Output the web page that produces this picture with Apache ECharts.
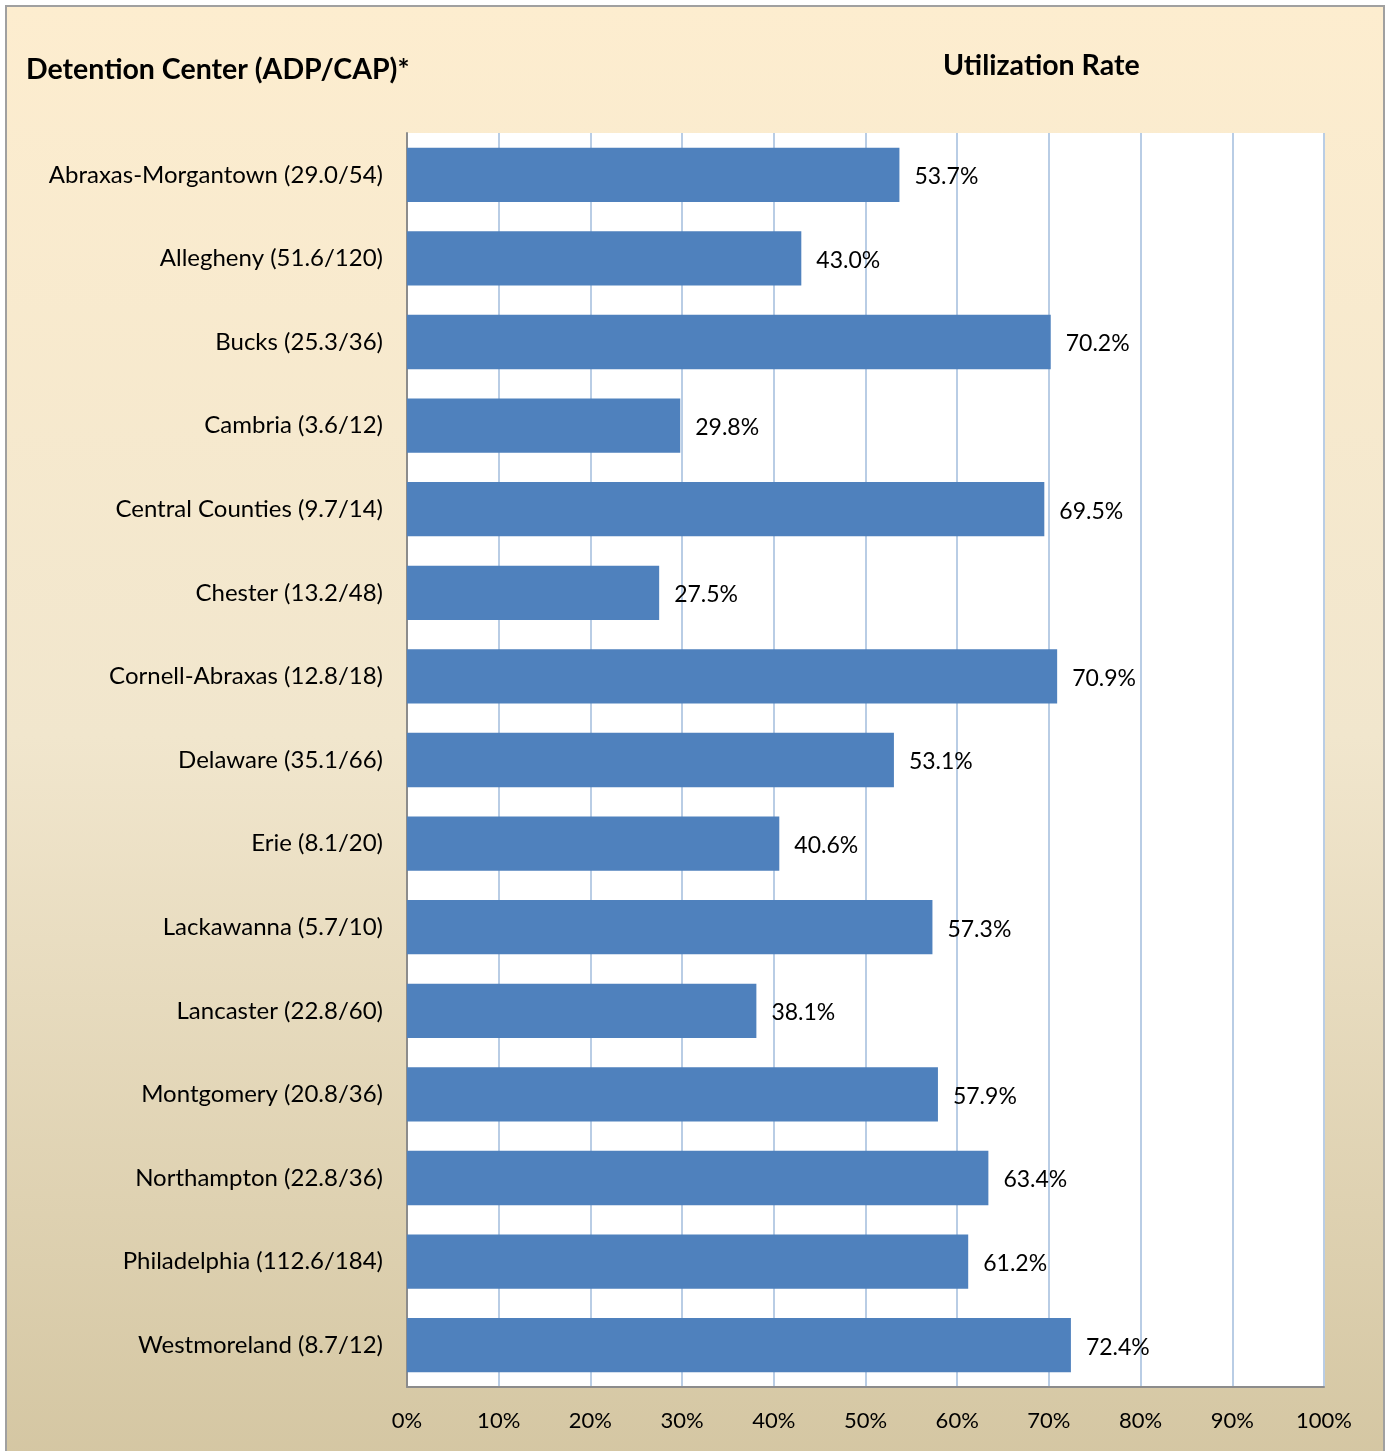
<!DOCTYPE html>
<html><head><meta charset="utf-8">
<script src="https://cdn.jsdelivr.net/npm/echarts@6/dist/echarts.min.js"></script>
<style>html,body{margin:0;padding:0;background:#fff;}#c{width:1386px;height:1451px;}</style>
</head><body><div id="c"></div>
<script>
const categories = ["Abraxas-Morgantown (29.0/54)","Allegheny (51.6/120)","Bucks (25.3/36)","Cambria (3.6/12)","Central Counties (9.7/14)","Chester (13.2/48)","Cornell-Abraxas (12.8/18)","Delaware (35.1/66)","Erie (8.1/20)","Lackawanna (5.7/10)","Lancaster (22.8/60)","Montgomery (20.8/36)","Northampton (22.8/36)","Philadelphia (112.6/184)","Westmoreland (8.7/12)"];
const utilization = [53.7,43.0,70.2,29.8,69.5,27.5,70.9,53.1,40.6,57.3,38.1,57.9,63.4,61.2,72.4];
const leftTitle = "Detention Center (ADP/CAP)*";
const rightTitle = "Utilization Rate";
const FONT = "Lato";
const chart = echarts.init(document.getElementById('c'));
chart.setOption({
  backgroundColor: '#ffffff',
  animation: false,
  graphic: [
    {type:'rect', z:-10, silent:true, shape:{x:6,y:6,width:1378,height:1460},
     style:{stroke:'#a0a0a0', lineWidth:2,
       fill:{type:'linear',x:0,y:0,x2:0,y2:1,colorStops:[{offset:0,color:'#fdedcf'},{offset:0.5,color:'#f1e6cd'},{offset:1,color:'#d4c6a2'}]}}},
    {type:'text', left:26, top:55, style:{text:leftTitle, font:'bold 28.5px '+FONT, fill:'#000'}},
    {type:'text', left:943, top:51, style:{text:rightTitle, font:'bold 28.5px '+FONT, fill:'#000'}}
  ],
  grid: {left:407, top:133, right:62, bottom:64, show:true, backgroundColor:'#ffffff', borderWidth:0},
  xAxis: {type:'value', min:0, max:100, interval:10,
    axisLine:{show:true, lineStyle:{color:'#8c8c8c', width:2}},
    axisTick:{show:false},
    splitLine:{show:true, lineStyle:{color:'#b9cde5', width:2}},
    axisLabel:{formatter:'{value}%', fontFamily:FONT, fontSize:22, color:'#000', margin:23}},
  yAxis: {type:'category', data:categories, inverse:true,
    axisLine:{show:true, lineStyle:{color:'#8c8c8c', width:2}},
    axisTick:{show:false},
    axisLabel:{fontFamily:FONT, fontSize:24, color:'#000', margin:24}},
  series: [{type:'bar', data:utilization, barCategoryGap:'35%',
    itemStyle:{color:'#4f81bd'},
    label:{show:true, position:'right', distance:15, fontFamily:FONT, fontSize:23, color:'#000',
      offset:[0,2], formatter:p=>p.value.toFixed(1)+'%'}}]
});
</script></body></html>
